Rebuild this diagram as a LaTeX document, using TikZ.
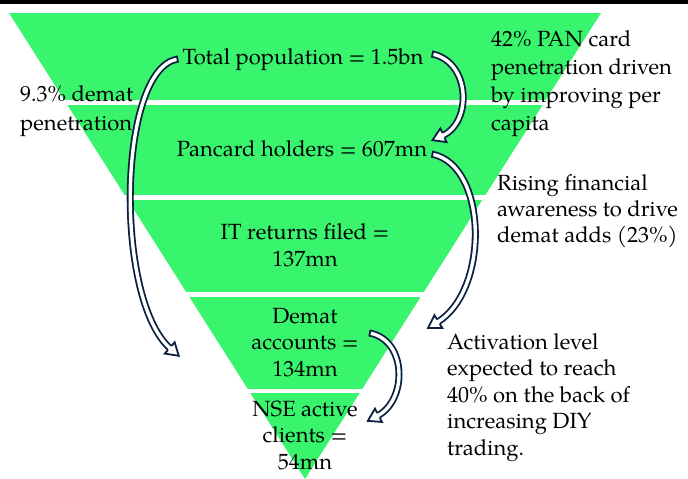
\documentclass[tikz,border=0pt]{standalone}
\usepackage{fontspec}
\setmainfont{TeX Gyre Pagella}
\usetikzlibrary{positioning,decorations.markings}
\definecolor{funnelgreen}{RGB}{57,245,110}
\definecolor{arrownavy}{RGB}{10,32,64}
\newcommand\curvehead{\fill[white] (0pt,0pt) -- (-12pt,7.5pt) -- (-12pt,-7.5pt) -- cycle;
  \draw[arrownavy,line width=1.8pt,line join=miter,shorten >=0pt] (-12pt,2.6pt) -- (-12pt,7.5pt) -- (0pt,0pt) -- (-12pt,-7.5pt) -- (-12pt,-2.6pt);}
\newcommand\curvetail{\draw[arrownavy,line width=1.8pt,shorten >=0pt] (0pt,-3.5pt) -- (0pt,3.5pt);}
\tikzset{stage/.style={align=center,inner sep=0pt,anchor=base,font=\fontsize{22}{26.5}\selectfont},
	 note/.style={align=left,inner sep=0pt,anchor=base west,font=\fontsize{22}{26.5}\selectfont},
	 curvearrow/.style={white,line width=3.4pt,shorten >=11pt,
	   preaction={draw=arrownavy,line width=7pt},
	   postaction={decorate,decoration={markings,mark=at position 0 with {\curvetail},mark=at position 0.999 with {\curvehead}}}}
	 }

\begin{document}
\begin{tikzpicture}[x=1pt,y=-1pt]
	\useasboundingbox (0,0) rectangle (688,479);
	\fill[black] (0,0) rectangle (688,3.5);
	% funnel bands
	\begin{scope}
	  \clip (9,13) -- (601,13) -- (305,479) -- cycle;
	  \foreach \ya/\yb in {13/100,105/195,200/292,297/389,393/479}
	    \fill[funnelgreen] (0,\ya) rectangle (688,\yb);
	\end{scope}
	% stages (base = last line)
	\node[stage] (totalpop) at (303,64) {Total population = 1.5bn};
	\node[stage] (panhold) at (302,156) {Pancard holders = 607mn};
	\node[stage] (itret) at (305,266) {IT returns filed =\\137mn};
	\node[stage] (demat) at (305,376) {Demat\\accounts =\\134mn};
	\node[stage] (nseact) at (305,469) {NSE active\\clients =\\54mn};
	% side notes
	\node[note,font=\fontsize{22}{28.5}\selectfont] (dematnote) at (20,130) {9.3\% demat\\penetration};
	\node[note,font=\fontsize{22}{28}\selectfont] (pannote) at (491,130) {42\% PAN card\\penetration driven\\by improving per\\capita};
	\node[note,font=\fontsize{22}{26}\selectfont] (awarenote) at (497,242) {Rising financial\\awareness to drive\\demat adds (23\%)};
	\node[note] (activnote) at (447,455) {Activation level\\expected to reach\\40\% on the back of\\increasing DIY\\trading.};
	\coordinate (dematend) at (179,356);
	\coordinate (activend) at (428,328);
	% arrows
	\draw[curvearrow] ([xshift=-5pt]totalpop.west) .. controls +(-60,10) and +(-65,-56) .. (dematend);
	\draw[curvearrow] ([xshift=9pt,yshift=5pt]totalpop.east) .. controls +(38,8) and +(40,-18) .. ([xshift=5pt,yshift=8pt]panhold.east);
	\draw[curvearrow] ([xshift=5pt,yshift=-6pt]panhold.east) .. controls +(55,11) and +(62,-38) .. (activend);
	\draw[curvearrow] ([xshift=11pt,yshift=9pt]demat.east) .. controls +(37,7) and +(40,-21) .. ([xshift=10pt,yshift=14pt]nseact.east);
\end{tikzpicture}
\end{document}
